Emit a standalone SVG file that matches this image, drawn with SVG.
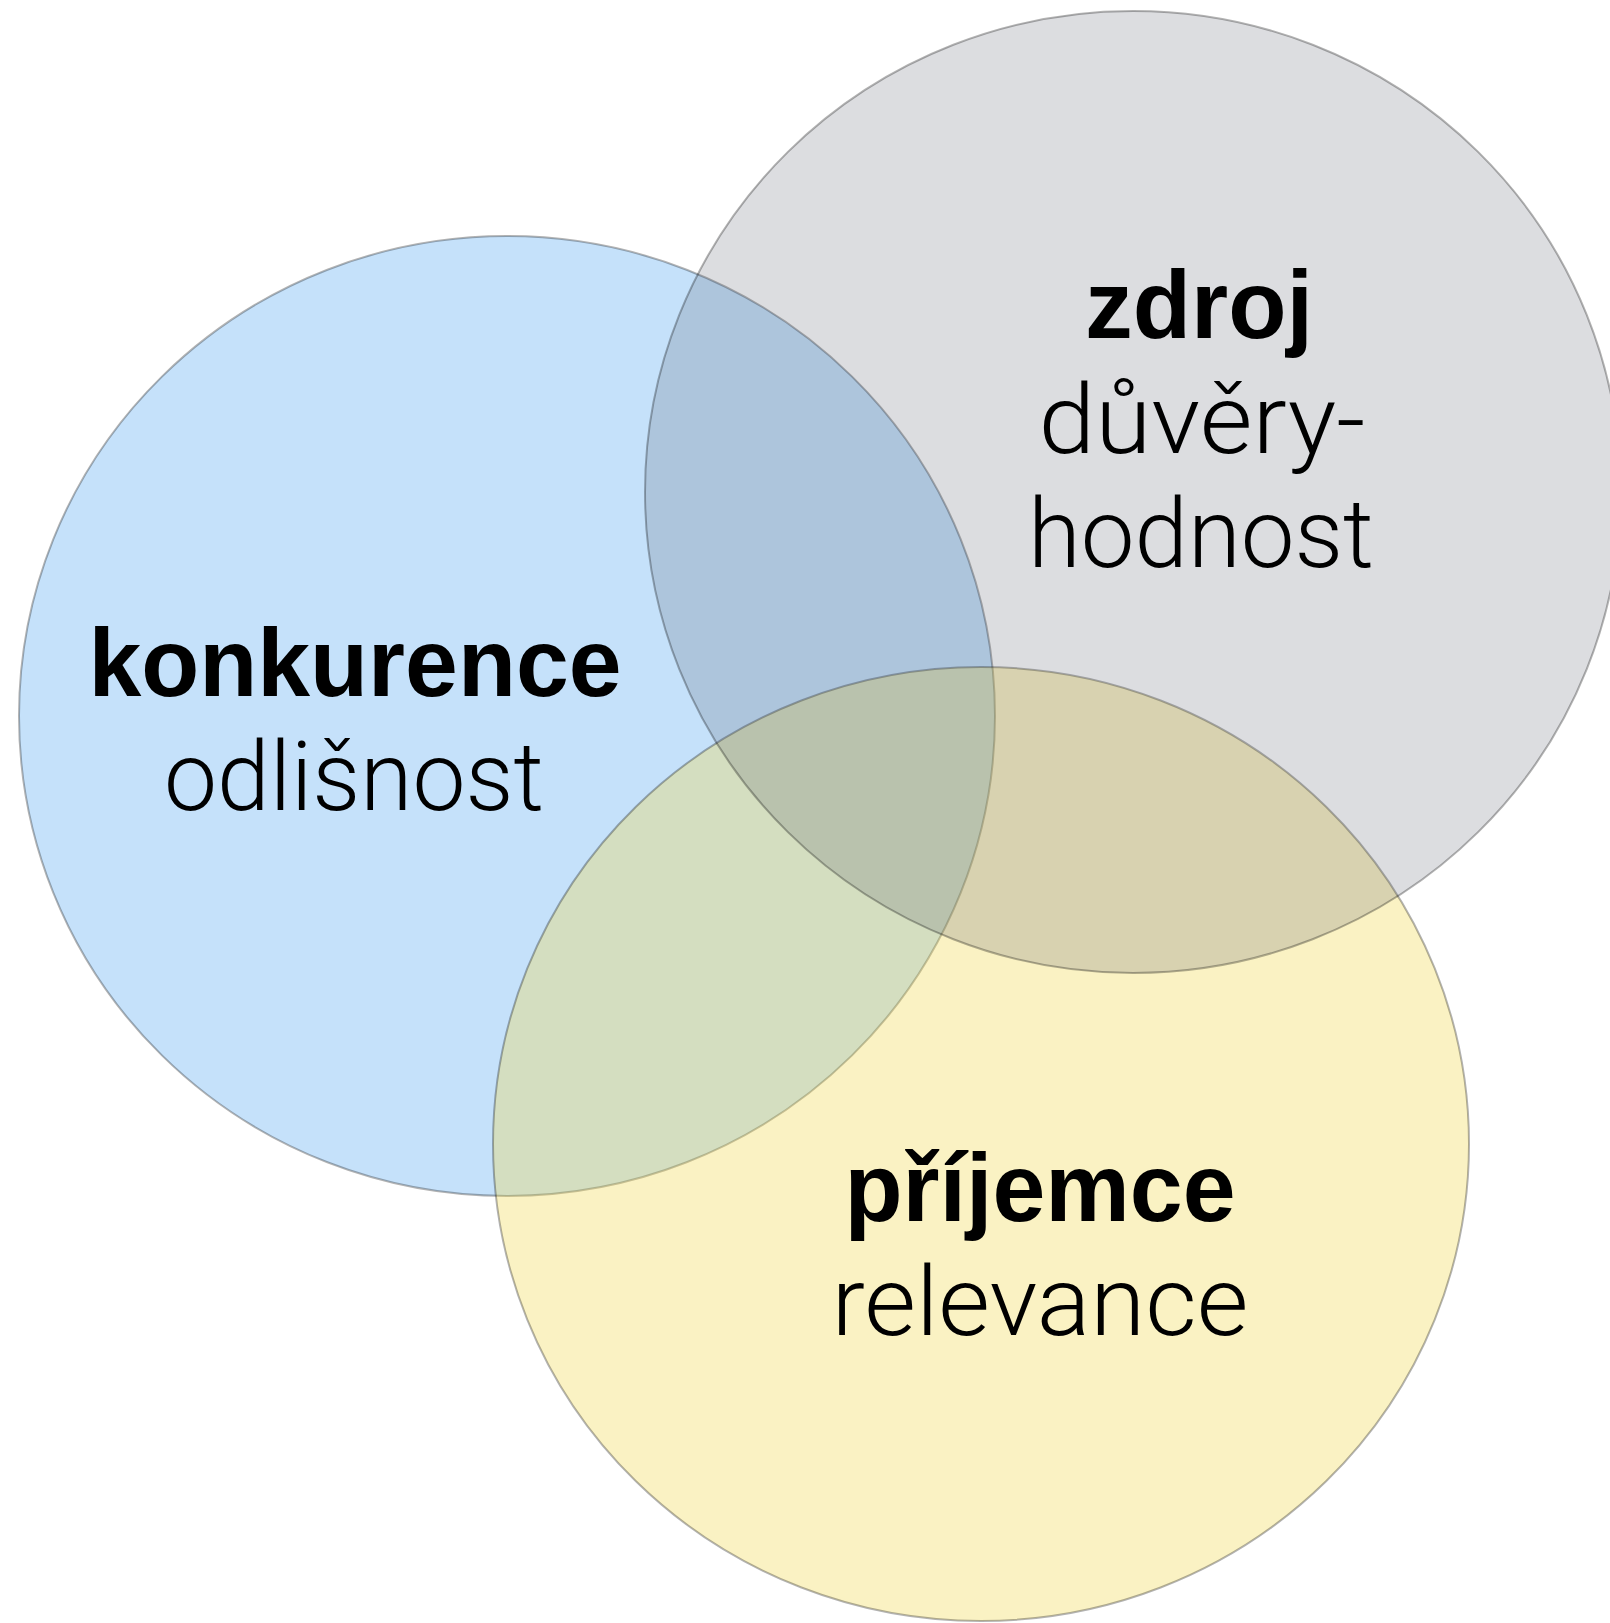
<svg xmlns="http://www.w3.org/2000/svg" width="1610" height="1623" viewBox="0 0 1610 1623">
<style>
.c{stroke:rgba(0,0,0,0.3);stroke-width:2}
.b{font-family:"Liberation Sans",Arial,sans-serif;font-weight:bold;font-size:96px;fill:#000;text-anchor:middle}
.r{font-family:Roboto,"Liberation Sans",sans-serif;font-weight:300;font-size:96px;fill:#000;text-anchor:middle}
</style>
<rect width="1610" height="1623" fill="#fff"/>
<g id="konkurence">
<ellipse class="c" cx="507" cy="716" rx="488" ry="480" fill="#c5e1fa"/>
</g>
<g id="prijemce">
<ellipse class="c" cx="981" cy="1144" rx="488" ry="477" fill="rgb(240,216,80)" fill-opacity="0.34"/>
</g>
<g id="zdroj">
<ellipse class="c" cx="1133" cy="492" rx="488" ry="481" fill="rgb(80,85,100)" fill-opacity="0.2"/>
</g>
<g id="labels">
<text class="b" x="355" y="696" textLength="533" lengthAdjust="spacingAndGlyphs">konkurence</text>
<text class="r" x="354" y="810" textLength="380" lengthAdjust="spacingAndGlyphs">odlišnost</text>
<text class="b" x="1199" y="338" textLength="228" lengthAdjust="spacingAndGlyphs">zdroj</text>
<text class="r" x="1202" y="453" textLength="327" lengthAdjust="spacingAndGlyphs">důvěry-</text>
<text class="r" x="1201" y="567" textLength="346" lengthAdjust="spacingAndGlyphs">hodnost</text>
<text class="b" x="1040" y="1221" textLength="391" lengthAdjust="spacingAndGlyphs">příjemce</text>
<text class="r" x="1040" y="1335" textLength="417" lengthAdjust="spacingAndGlyphs">relevance</text>
</g>
<g id="connectors"/>
</svg>
